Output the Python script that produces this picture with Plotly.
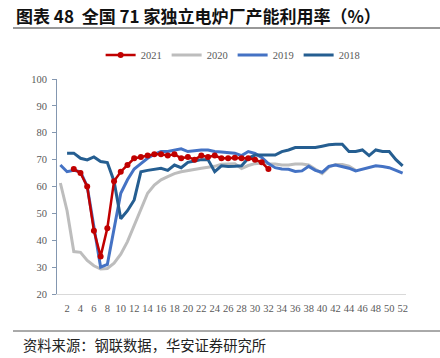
import plotly.graph_objects as go

weeks_2021 = list(range(3, 33))
vals_2021 = [66.5, 65, 60, 43.5, 34, 44.5, 62, 65.5, 68, 70.5, 71, 71.5, 72, 72, 71.5,
             72, 70.5, 71, 70, 71.5, 71, 71.5, 70.5, 70.5, 70.7, 70.5, 70.5, 70, 69, 66.5]

weeks_2020 = list(range(1, 46))
vals_2020 = [61.3, 51, 35.8, 35.5, 32.5, 30.5, 29.3, 29.5, 31.5, 34.8, 39.5, 45.5, 52, 57.5,
             60.5, 62.5, 63.7, 64.8, 65.5, 66, 66.3, 66.8, 67.2, 67.5, 68.3, 68.5, 68.5, 66.7,
             67.8, 68.5, 68.7, 68.5, 68.4, 68, 68, 68.4, 68.4, 68, 66.5, 64.8, 67.2, 68.2,
             68.2, 67.6, 66]

weeks_2019 = list(range(1, 53))
vals_2019 = [68, 65.5, 66, 65.5, 60, 45, 30, 31, 45, 57.5, 62.5, 66.5, 68.5, 70.5, 72, 73,
             73, 73.5, 74, 73, 73.3, 73.6, 73.6, 73, 72.8, 72.5, 72.4, 71.5, 73, 72.3, 70.8,
             68.5, 67, 66.5, 66.4, 65.6, 65.8, 67.5, 66, 65.3, 67.5, 68, 67.5, 66.8, 65.8,
             66.5, 67, 67.7, 67.4, 67, 66, 65]

weeks_2018 = list(range(2, 53))
vals_2018 = [72.4, 72.4, 70.5, 69.9, 71, 69.3, 68.9, 62, 48, 51, 55, 65.5, 66, 66.5, 66.8,
             66, 68, 67, 69, 69.5, 70, 70, 65.5, 67.7, 67.4, 67.5, 67.7, 70.5, 71.7, 71.7,
             71.7, 71.7, 73, 73.6, 74.5, 74.5, 74.5, 74.5, 75, 75.5, 75.7, 75.7, 73, 73,
             73.6, 71.5, 73.6, 73, 73, 70, 67.7]

x_ticks = list(range(2, 53, 2))
y_ticks = list(range(20, 101, 10))

title_text = "图表 48&nbsp; 全国 71 家独立电炉厂产能利用率（%）"
source_text = "资料来源：钢联数据，华安证券研究所"

fig = go.Figure()
fig.add_trace(go.Scatter(x=weeks_2020, y=vals_2020, name="2020", mode="lines",
                         line=dict(color="#BDBDBD", width=3), legendrank=2))
fig.add_trace(go.Scatter(x=weeks_2019, y=vals_2019, name="2019", mode="lines",
                         line=dict(color="#4472C4", width=3), legendrank=3))
fig.add_trace(go.Scatter(x=weeks_2018, y=vals_2018, name="2018", mode="lines",
                         line=dict(color="#255E91", width=3), legendrank=4))
fig.add_trace(go.Scatter(x=weeks_2021, y=vals_2021, name="2021", mode="lines+markers",
                         line=dict(color="#C00000", width=2.5),
                         marker=dict(color="#C00000", size=6), legendrank=1))

serif = "Liberation Serif, Times New Roman, serif"
cjk = "Noto Sans CJK SC"

fig.update_layout(
    width=440, height=358,
    margin=dict(l=57, r=34, t=79, b=64, autoexpand=False),
    paper_bgcolor="white", plot_bgcolor="white",
    showlegend=True,
    legend=dict(orientation="h", x=0.125, xanchor="left", y=1.112, yanchor="middle",
                font=dict(family=serif, size=10.5, color="#595959"),
                bgcolor="rgba(0,0,0,0)", itemwidth=30, tracegroupgap=0),
    xaxis=dict(range=[0.5, 52.5], tickmode="array", tickvals=x_ticks,
               ticktext=[str(v) for v in x_ticks], showgrid=False, zeroline=False,
               showline=True, linecolor="#D9D9D9", linewidth=1, ticks="",
               tickfont=dict(family=serif, size=10.5, color="#595959"),
               ticklabelstandoff=4),
    yaxis=dict(range=[20, 100], tickmode="array", tickvals=y_ticks, showgrid=False,
               zeroline=False, showline=True, linecolor="#8497B0", linewidth=1,
               ticks="outside", ticklen=4, tickcolor="#8497B0",
               tickfont=dict(family=serif, size=10.5, color="#595959"),
               ticklabelstandoff=3),
)

pw, ph = 440 - 57 - 34, 358 - 79 - 64


def px_x(p):
    return (p - 57) / pw


def px_y(p):
    return (294 - p) / ph


fig.add_annotation(text="<b>" + title_text + "</b>", xref="paper", yref="paper",
                   x=px_x(14), y=px_y(15), xanchor="left", yanchor="middle",
                   showarrow=False, font=dict(family=cjk, size=17, color="#111111"))
fig.add_annotation(text=source_text, xref="paper", yref="paper",
                   x=px_x(21), y=px_y(344), xanchor="left", yanchor="middle",
                   showarrow=False, font=dict(family=cjk, size=14.3, color="#222222"))
fig.add_shape(type="line", xref="paper", yref="paper", x0=px_x(13), x1=px_x(440),
              y0=px_y(28), y1=px_y(28), line=dict(color="#333333", width=1.2))
fig.add_shape(type="line", xref="paper", yref="paper", x0=px_x(13), x1=px_x(440),
              y0=px_y(331), y1=px_y(331), line=dict(color="#555555", width=1))

fig.write_html("out.html", config={"displayModeBar": False},
               post_script="document.body.style.margin='0';document.body.style.overflow='hidden';")
